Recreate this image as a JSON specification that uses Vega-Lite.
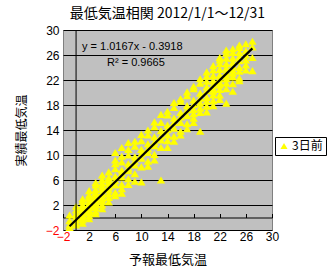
{
  "$schema": "https://vega.github.io/schema/vega-lite/v6.json",
  "width": 209,
  "height": 200,
  "autosize": {"type": "none"},
  "padding": {"left": 63, "top": 30, "right": 61, "bottom": 50},
  "background": "white",
  "title": {"text": "最低気温相関 2012/1/1～12/31", "font": "Noto Sans CJK JP", "fontSize": 14, "fontWeight": "normal", "color": "black", "offset": 3, "anchor": "middle"},
  "config": {
    "view": {"fill": "#c0c0c0", "stroke": "#808080"},
    "axis": {"labelFont": "Liberation Sans", "labelFontSize": 12, "labelColor": "black", "titleFont": "Noto Sans CJK JP", "titleFontWeight": "normal", "titleColor": "black"}
  },
  "datasets": {
    "pts": [
      {"f":-1,"a":-1.6},{"f":-1,"a":-0.5},{"f":-1,"a":-1.2},{"f":-1,"a":0.4},
      {"f":0,"a":-1.2},{"f":0,"a":0.5},{"f":0,"a":-0.3},{"f":0,"a":1.2},{"f":0,"a":0.1},{"f":0,"a":-0.8},{"f":0,"a":1.8},{"f":0,"a":0.6},
      {"f":1,"a":-0.9},{"f":1,"a":0.2},{"f":1,"a":1.1},{"f":1,"a":2.0},{"f":1,"a":0.5},{"f":1,"a":1.6},{"f":1,"a":-0.4},{"f":1,"a":2.6},{"f":1,"a":0.9},{"f":1,"a":1.4},{"f":1,"a":3.0},{"f":1,"a":0.0},
      {"f":2,"a":0.3},{"f":2,"a":1.0},{"f":2,"a":2.2},{"f":2,"a":3.1},{"f":2,"a":1.7},{"f":2,"a":4.3},{"f":2,"a":0.8},{"f":2,"a":2.6},{"f":2,"a":3.6},{"f":2,"a":1.3},{"f":2,"a":2.0},{"f":2,"a":-0.2},{"f":2,"a":1.9},{"f":2,"a":3.3},
      {"f":3,"a":1.0},{"f":3,"a":2.3},{"f":3,"a":3.4},{"f":3,"a":4.5},{"f":3,"a":2.8},{"f":3,"a":5.2},{"f":3,"a":1.6},{"f":3,"a":3.0},{"f":3,"a":4.0},{"f":3,"a":2.1},{"f":3,"a":3.7},{"f":3,"a":0.6},{"f":3,"a":5.6},{"f":3,"a":2.5},
      {"f":4,"a":2.0},{"f":4,"a":3.3},{"f":4,"a":4.6},{"f":4,"a":5.5},{"f":4,"a":3.0},{"f":4,"a":6.1},{"f":4,"a":4.0},{"f":4,"a":2.6},{"f":4,"a":5.0},{"f":4,"a":1.4},{"f":4,"a":3.7},{"f":4,"a":6.8},
      {"f":5,"a":3.2},{"f":5,"a":4.4},{"f":5,"a":5.6},{"f":5,"a":6.4},{"f":5,"a":2.5},{"f":5,"a":7.3},{"f":5,"a":5.0},{"f":5,"a":3.8},{"f":5,"a":6.0},{"f":5,"a":4.9},
      {"f":6,"a":4.0},{"f":6,"a":5.2},{"f":6,"a":6.6},{"f":6,"a":7.8},{"f":6,"a":3.5},{"f":6,"a":8.6},{"f":6,"a":5.9},{"f":6,"a":9.2},{"f":6,"a":10.4},
      {"f":7,"a":5.3},{"f":7,"a":6.5},{"f":7,"a":7.6},{"f":7,"a":8.9},{"f":7,"a":4.6},{"f":7,"a":9.8},{"f":7,"a":7.1},{"f":7,"a":3.9},{"f":7,"a":11.2},
      {"f":8,"a":6.2},{"f":8,"a":7.5},{"f":8,"a":8.6},{"f":8,"a":10.0},{"f":8,"a":5.3},{"f":8,"a":10.9},{"f":8,"a":7.9},{"f":8,"a":12.0},
      {"f":9,"a":7.0},{"f":9,"a":8.4},{"f":9,"a":9.7},{"f":9,"a":11.4},{"f":9,"a":5.8},{"f":9,"a":12.2},{"f":9,"a":9.0},
      {"f":10,"a":8.1},{"f":10,"a":9.5},{"f":10,"a":10.9},{"f":10,"a":12.3},{"f":10,"a":5.7},{"f":10,"a":13.3},{"f":10,"a":10.2},
      {"f":11,"a":9.0},{"f":11,"a":10.4},{"f":11,"a":11.8},{"f":11,"a":13.2},{"f":11,"a":8.2},{"f":11,"a":14.0},{"f":11,"a":11.0},
      {"f":12,"a":10.1},{"f":12,"a":11.5},{"f":12,"a":12.9},{"f":12,"a":14.5},{"f":12,"a":9.2},{"f":12,"a":15.3},{"f":12,"a":12.0},
      {"f":13,"a":11.2},{"f":13,"a":12.4},{"f":13,"a":13.9},{"f":13,"a":16.5},{"f":13,"a":6.0},{"f":13,"a":15.2},{"f":13,"a":13.0},
      {"f":14,"a":11.2},{"f":14,"a":13.2},{"f":14,"a":14.8},{"f":14,"a":16.4},{"f":14,"a":12.3},{"f":14,"a":17.0},{"f":14,"a":14.1},
      {"f":15,"a":13.0},{"f":15,"a":14.3},{"f":15,"a":15.9},{"f":15,"a":17.6},{"f":15,"a":12.2},{"f":15,"a":18.4},{"f":15,"a":15.2},
      {"f":16,"a":13.8},{"f":16,"a":15.2},{"f":16,"a":16.8},{"f":16,"a":18.6},{"f":16,"a":13.2},{"f":16,"a":19.0},{"f":16,"a":16.1},
      {"f":17,"a":15.0},{"f":17,"a":16.3},{"f":17,"a":17.9},{"f":17,"a":19.5},{"f":17,"a":14.2},{"f":17,"a":20.1},{"f":17,"a":17.2},
      {"f":18,"a":15.9},{"f":18,"a":17.3},{"f":18,"a":18.8},{"f":18,"a":20.6},{"f":18,"a":15.2},{"f":18,"a":21.0},{"f":18,"a":18.1},{"f":18,"a":16.6},
      {"f":19,"a":16.8},{"f":19,"a":18.3},{"f":19,"a":19.9},{"f":19,"a":21.5},{"f":19,"a":13.8},{"f":19,"a":22.2},{"f":19,"a":19.1},{"f":19,"a":17.5},
      {"f":20,"a":17.8},{"f":20,"a":19.2},{"f":20,"a":20.9},{"f":20,"a":22.6},{"f":20,"a":16.9},{"f":20,"a":23.3},{"f":20,"a":20.3},{"f":20,"a":18.6},{"f":20,"a":21.8},
      {"f":21,"a":18.7},{"f":21,"a":20.2},{"f":21,"a":21.9},{"f":21,"a":23.6},{"f":21,"a":17.9},{"f":21,"a":24.3},{"f":21,"a":21.2},{"f":21,"a":19.6},{"f":21,"a":22.7},{"f":21,"a":20.6},
      {"f":22,"a":19.6},{"f":22,"a":21.2},{"f":22,"a":22.8},{"f":22,"a":24.6},{"f":22,"a":18.9},{"f":22,"a":25.2},{"f":22,"a":22.2},{"f":22,"a":20.5},{"f":22,"a":23.7},{"f":22,"a":21.6},{"f":22,"a":25.6},
      {"f":23,"a":20.6},{"f":23,"a":22.2},{"f":23,"a":23.9},{"f":23,"a":25.5},{"f":23,"a":18.3},{"f":23,"a":26.3},{"f":23,"a":23.2},{"f":23,"a":21.5},{"f":23,"a":24.6},{"f":23,"a":22.7},{"f":23,"a":26.8},
      {"f":24,"a":21.4},{"f":24,"a":23.1},{"f":24,"a":24.8},{"f":24,"a":26.4},{"f":24,"a":20.2},{"f":24,"a":27.0},{"f":24,"a":24.2},{"f":24,"a":22.5},{"f":24,"a":25.5},{"f":24,"a":23.6},
      {"f":25,"a":22.3},{"f":25,"a":24.0},{"f":25,"a":25.7},{"f":25,"a":27.2},{"f":25,"a":21.9},{"f":25,"a":27.6},{"f":25,"a":25.1},{"f":25,"a":23.4},{"f":25,"a":26.4},
      {"f":26,"a":23.6},{"f":26,"a":25.2},{"f":26,"a":26.7},{"f":26,"a":27.8},{"f":26,"a":24.4},{"f":26,"a":26.0},
      {"f":27,"a":23.5},{"f":27,"a":25.6},{"f":27,"a":27.3},{"f":27,"a":28.2}
    ],
    "fit": [{"f": -1, "a": -1.41}, {"f": 27, "a": 27.06}],
    "one": [{"k": 1}]
  },
  "resolve": {"axis": {"x": "independent"}},
  "layer": [
    {
      "data": {"name": "pts"},
      "mark": {"type": "point", "shape": "triangle-up", "filled": true, "size": 70, "opacity": 1, "strokeWidth": 0},
      "encoding": {
        "x": {"field": "f", "type": "quantitative",
          "scale": {"domain": [-2, 30], "nice": false, "zero": false},
          "axis": {"orient": "bottom", "values": [-2, 2, 6, 10, 14, 18, 22, 26, 30], "grid": false, "domain": false, "ticks": false, "labelPadding": 1, "labelFlush": false, "labelOverlap": false,
            "labelColor": {"condition": {"test": "datum.value < 0", "value": "#ff0000"}, "value": "black"},
            "title": "予報最低気温", "titleFontSize": 13, "titlePadding": 11}},
        "y": {"field": "a", "type": "quantitative",
          "scale": {"domain": [-2, 30], "nice": false, "zero": false},
          "axis": {"values": [-2, 2, 6, 10, 14, 18, 22, 26, 30], "grid": true, "gridColor": "black", "gridOpacity": 1, "gridWidth": 1, "domain": false, "ticks": false, "labelPadding": 4, "labelOverlap": false,
            "labelColor": {"condition": {"test": "datum.value < 0", "value": "#ff0000"}, "value": "black"},
            "title": "実績最低気温", "titleFontSize": 12, "titlePadding": 17}},
        "color": {"datum": "3日前", "type": "nominal", "scale": {"range": ["#ffff00"]},
          "legend": {"orient": "none", "legendX": 212, "legendY": 107, "title": null, "strokeColor": "black", "fillColor": "white", "padding": 3, "symbolType": "triangle-up", "symbolSize": 50, "symbolStrokeWidth": 0, "labelFont": "Noto Sans CJK JP", "labelFontSize": 12, "labelColor": "black", "labelOffset": 2}}
      }
    },
    {
      "data": {"name": "one"},
      "mark": {"type": "rule", "color": "black", "strokeWidth": 1},
      "encoding": {"x": {"datum": 0, "type": "quantitative", "axis": null}}
    },
    {
      "data": {"name": "fit"},
      "mark": {"type": "line", "color": "black", "strokeWidth": 2.2},
      "encoding": {
        "x": {"field": "f", "type": "quantitative",
          "axis": {"orient": "top", "offset": -187.5, "values": [-2, 2, 6, 10, 14, 18, 22, 26, 30], "labels": false, "domain": true, "domainColor": "black", "ticks": true, "tickColor": "black", "tickSize": 4, "title": null, "grid": false}},
        "y": {"field": "a", "type": "quantitative",
          "axis": {"values": [-2, 2, 6, 10, 14, 18, 22, 26, 30], "grid": true, "gridColor": "black", "gridOpacity": 1, "gridWidth": 1, "domain": false, "ticks": false, "labelPadding": 4, "labelOverlap": false,
            "labelColor": {"condition": {"test": "datum.value < 0", "value": "#ff0000"}, "value": "black"},
            "title": "実績最低気温", "titleFontSize": 12, "titlePadding": 17}}
      }
    },
    {
      "data": {"name": "one"},
      "mark": {"type": "text", "align": "left", "baseline": "middle", "font": "Liberation Sans", "fontSize": 11, "color": "black"},
      "encoding": {"x": {"datum": 0.91, "type": "quantitative", "axis": null},
        "y": {"datum": 27.28, "type": "quantitative",
          "axis": {"values": [-2, 2, 6, 10, 14, 18, 22, 26, 30], "grid": true, "gridColor": "black", "gridOpacity": 1, "gridWidth": 1, "domain": false, "ticks": false, "labelPadding": 4, "labelOverlap": false,
            "labelColor": {"condition": {"test": "datum.value < 0", "value": "#ff0000"}, "value": "black"},
            "title": "実績最低気温", "titleFontSize": 12, "titlePadding": 17}},
        "text": {"value": "y = 1.0167x - 0.3918"}}
    },
    {
      "data": {"name": "one"},
      "mark": {"type": "text", "align": "left", "baseline": "middle", "font": "Liberation Sans", "fontSize": 11, "color": "black"},
      "encoding": {"x": {"datum": 4.74, "type": "quantitative", "axis": null},
        "y": {"datum": 24.72, "type": "quantitative",
          "axis": {"values": [-2, 2, 6, 10, 14, 18, 22, 26, 30], "grid": true, "gridColor": "black", "gridOpacity": 1, "gridWidth": 1, "domain": false, "ticks": false, "labelPadding": 4, "labelOverlap": false,
            "labelColor": {"condition": {"test": "datum.value < 0", "value": "#ff0000"}, "value": "black"},
            "title": "実績最低気温", "titleFontSize": 12, "titlePadding": 17}},
        "text": {"value": "R² = 0.9665"}}
    }
  ]
}
